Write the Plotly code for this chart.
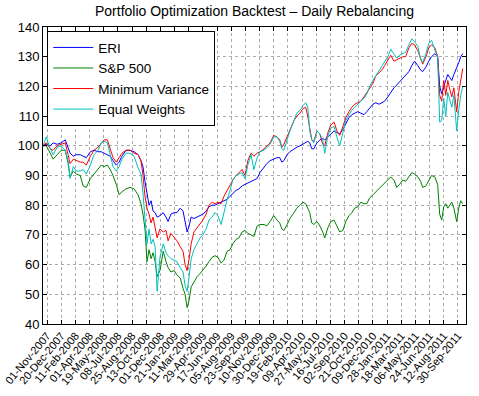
import plotly.graph_objects as go

day = [0, 8, 18, 25, 35, 45, 55, 62, 67, 75, 82, 92, 99, 107, 117, 126, 136, 144, 151, 159,
       166, 173, 181, 188, 195, 205, 215, 225, 235, 242, 247, 252, 257, 262, 267, 272, 277, 282, 289, 297,
       304, 309, 316, 324, 331, 339, 346, 351, 356, 361, 366, 373, 381, 388, 395, 403, 410, 418, 425, 432,
       440, 447, 455, 462, 469, 477, 484, 492, 499, 506, 514, 521, 529, 536, 546, 553, 561, 570, 578, 585,
       590, 595, 603, 610, 620, 627, 635, 642, 649, 654, 659, 664, 669, 677, 684, 691, 696, 704, 711, 719,
       726, 733, 741, 748, 756, 763, 770, 778, 785, 793, 800, 807, 815, 822, 830, 837, 844, 852, 859, 867,
       874, 881, 889, 896, 904, 911, 918, 926, 933, 938, 946, 953, 960, 968, 975, 980, 985, 990, 995, 1000,
       1005, 1010, 1015, 1020, 1022, 1027, 1032, 1037]

eri = [100, 100.5, 100, 101, 100.5, 101, 102, 99, 97.5, 96.5, 97, 97, 96.5, 96, 98, 98.5, 98, 98, 97.5, 97,
       96.5, 95, 93.5, 94.5, 96.5, 98.5, 98.5, 98, 97, 95, 93, 88, 84, 80, 81.5, 78, 77.5, 76, 76.5, 77.5,
       76, 74.5, 77, 77.5, 77.5, 79, 78, 74, 71, 73, 76, 75.5, 76, 76.5, 77, 78, 79.5, 80, 80, 80.5,
       81, 81.5, 82, 83, 84, 85, 85.5, 86.5, 87, 87.5, 88, 88.5, 89, 91, 93, 94, 95, 95.5, 96, 96,
       94.5, 95, 97, 98, 99, 99.5, 100, 100.5, 101, 101.5, 101, 99, 99, 101, 102, 102.5, 102, 103, 104, 105,
       104.5, 104, 105.5, 107.5, 109.5, 110.5, 111, 111.5, 111, 110.5, 111.5, 112.5, 114, 114.5, 114, 114.5, 115, 116.5, 118, 119.5,
       120.5, 121.5, 122.5, 123.5, 125, 127, 128.5, 127, 125.5, 125, 126.5, 128.5, 130, 131, 130, 120, 117.5, 120, 122, 124,
       123, 122, 124, 125.5, 126, 128, 130, 131]

sp500 = [100, 100, 97.5, 95.5, 97, 98.5, 98.5, 94, 89.5, 91.5, 90.5, 90, 86.5, 86, 89, 90.5, 92.5, 93.5, 93, 93.5,
         92, 90, 87, 83.5, 84.5, 85.5, 86, 85.5, 83.5, 80.5, 77, 72, 61, 65, 62, 64, 61, 56, 58, 64.5,
         61, 59, 57.5, 58, 56.5, 55.5, 52, 50, 45.5, 48, 52.5, 54, 56, 57, 58, 59.5, 61, 62.5, 63, 62.5,
         60.5, 61.5, 64.5, 65, 67, 68.5, 69, 71, 71.5, 70.5, 70, 69.5, 73, 73.5, 73.5, 73, 74.5, 76.5, 75, 74,
         72, 71.5, 73.5, 75.5, 77.5, 79, 80, 81, 80.5, 79, 77.5, 74, 73.5, 74.5, 73, 71, 69, 72.5, 74.5, 75,
         73, 71, 71.5, 74.5, 76.5, 77.5, 79, 79.5, 81, 80.5, 80.5, 82.5, 83.5, 84.5, 85.5, 86.5, 87.5, 88.5, 89.5, 88.5,
         86, 87, 88.5, 88, 89.5, 91, 90.5, 89.5, 88, 86, 86.5, 88.5, 90, 89.5, 87, 77, 75, 79.5, 80.5, 79,
         80, 81, 79, 75, 74.5, 79, 81.5, 80.5]

min_var = [100, 101, 99, 98.5, 100, 100.5, 101, 97, 94, 95.5, 95, 94.5, 94.5, 93.5, 96.5, 98.5, 99.5, 101, 102, 102,
           99, 96, 94.5, 96, 97.5, 98.5, 98.5, 97.5, 97, 95, 90, 83, 79, 77, 74, 76, 72, 69, 72, 71,
           71.5, 68, 70.5, 69, 68, 66, 64.5, 60, 58, 62, 67, 71, 72.5, 73.5, 75, 77, 80, 81, 80.5, 81,
           80.5, 83, 85, 87, 88.5, 90, 91, 92, 90, 95, 97.5, 96.5, 97.5, 98, 99, 100, 101, 103.5, 103, 102,
           99.5, 100.5, 103, 105.5, 108.5, 110, 111, 112.5, 113, 110, 106, 102, 101.5, 105, 104, 100.5, 100, 104.5, 107, 108,
           105, 103.5, 106.5, 109.5, 111.5, 113, 114, 114.5, 115, 116.5, 118, 119.5, 121, 123.5, 124.5, 125.5, 127, 129, 130.5, 128.5,
           129, 129.5, 130, 130, 133, 134.5, 134, 132, 129, 127.5, 130, 133, 134, 133, 130, 117, 115, 122, 117, 122,
           119, 116.5, 119.5, 113, 111.5, 118, 122, 126]

equal_w = [100, 103, 99, 97, 99.5, 100, 98.5, 95, 89, 93, 91.5, 91.5, 92, 90.5, 93.5, 97, 98.5, 101, 101.5, 101,
           97, 93, 91.5, 93, 95.5, 97.5, 97.5, 96.5, 92.5, 90.5, 84, 75, 67, 72, 67, 68.5, 66, 51, 62.5, 67,
           64, 63, 62, 61.5, 61, 59, 57.5, 53, 51, 56, 62, 65, 67, 69, 70, 72, 75, 76, 77.5, 76.5,
           73.5, 78, 82, 85, 88.5, 90, 90.5, 91, 89, 93.5, 97, 92, 96, 98, 98.5, 99.5, 100.5, 103, 103, 101.5,
           99, 98.5, 102, 105, 108.5, 111, 112, 113.5, 114.5, 113, 105, 102, 101, 105, 104, 102, 97.5, 103.5, 106, 106.5,
           103, 100, 104.5, 108.5, 110.5, 112, 113, 114, 115, 116, 117.5, 120, 122, 123.5, 125, 126.5, 128, 130, 132.5, 131,
           129.5, 130.5, 131, 131.5, 134, 136, 135, 133.5, 129, 128, 131, 134.5, 135.5, 132, 129.5, 108, 108.5, 116, 110, 118,
           115, 113, 117, 106, 105, 112, 117, 120]

tick_labels = ["01-Nov-2007", "20-Dec-2007", "11-Feb-2008", "01-Apr-2008", "19-May-2008", "08-Jul-2008",
               "25-Aug-2008", "13-Oct-2008", "01-Dec-2008", "21-Jan-2009", "11-Mar-2009", "29-Apr-2009",
               "17-Jun-2009", "05-Aug-2009", "23-Sep-2009", "10-Nov-2009", "30-Dec-2009", "19-Feb-2010",
               "09-Apr-2010", "27-May-2010", "16-Jul-2010", "02-Sep-2010", "21-Oct-2010", "09-Dec-2010",
               "28-Jan-2011", "18-Mar-2011", "06-May-2011", "24-Jun-2011", "12-Aug-2011", "30-Sep-2011"]

assert len(day) == len(eri) == len(sp500) == len(min_var) == len(equal_w)

FONT = "Liberation Sans, Arial, Helvetica, sans-serif"

fig = go.Figure()
for name, vals, col in [("ERI", eri, "#0000FF"), ("S&P 500", sp500, "#008000"),
                        ("Minimum Variance", min_var, "#FF0000"), ("Equal Weights", equal_w, "#00BFBF")]:
    fig.add_trace(go.Scatter(x=day, y=vals, mode="lines", name=name,
                             line=dict(color=col, width=1)))

axis_common = dict(showline=True, linecolor="black", linewidth=1, mirror="ticks",
                   ticks="inside", ticklen=4, tickcolor="black",
                   showgrid=True, gridcolor="#aaaaaa", griddash="dot", gridwidth=1,
                   zeroline=False, automargin=False)

fig.update_layout(
    width=479, height=396,
    margin=dict(l=43, r=13, t=27, b=72),
    paper_bgcolor="white", plot_bgcolor="white",
    font=dict(family=FONT, color="black", size=12),
    title=dict(text="Portfolio Optimization Backtest – Daily Rebalancing",
               x=0.5, xref="paper", xanchor="center", y=0.985, yanchor="top",
               font=dict(size=14), automargin=False),
    showlegend=True,
    legend=dict(x=0.01, y=0.986, xanchor="left", yanchor="top",
                bgcolor="white", bordercolor="black", borderwidth=1,
                font=dict(size=13.5), tracegroupgap=0, itemwidth=40),
    xaxis=dict(range=[0, 1045], tickmode="array",
               tickvals=[10 + 35 * k for k in range(len(tick_labels))],
               ticktext=tick_labels, tickangle=-50, ticklabeloverflow="allow",
               tickfont=dict(size=11), **axis_common),
    yaxis=dict(range=[40, 140], dtick=10, tickfont=dict(size=13), **axis_common),
)

# drop the default page margin so the figure sits at the window's corner
fig.write_html("out.html", config={"displayModeBar": False},
               post_script="document.body.style.margin='0';")
